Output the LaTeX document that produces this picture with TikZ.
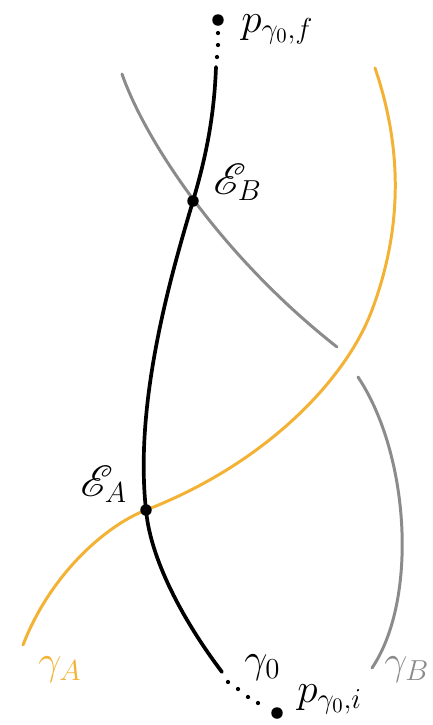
\documentclass[tikz,border=0pt]{standalone}
\usepackage{fix-cm}
\usepackage{mathrsfs}
\definecolor{gold}{RGB}{244,178,52}
\definecolor{ggray}{RGB}{138,140,138}
\begin{document}
\begin{tikzpicture}[x=0.02cm,y=-0.02cm,
  curveA/.style={gold,line width=1.7pt,line cap=round},
  curveB/.style={ggray,line width=1.7pt,line cap=round},
  curve0/.style={black,line width=2.1pt,line cap=round},
  bigdot/.style={circle,fill=black,inner sep=0pt,minimum size=0.23cm},
  smalldot/.style={circle,fill=black,inner sep=0pt,minimum size=0.085cm},
  lbl/.style={inner sep=0pt,anchor=base west,font=\fontsize{23.5}{28}\selectfont}]
\fill[white] (0,0) rectangle (433,725);
\useasboundingbox (0,0) rectangle (433,725);
% key points
\coordinate (EB) at (193,201);
\coordinate (EA) at (146,510);
\coordinate (Pf) at (218,20);
\coordinate (Pi) at (277,713);
\coordinate (Btop) at (122,74);
\coordinate (Bgap1) at (337,347);
\coordinate (Bgap2) at (358,377);
\coordinate (Bend) at (372,668);
\coordinate (Atop) at (375,68);
\coordinate (Amid) at (372,310);
\coordinate (Aend) at (23,645);
\coordinate (Ztop) at (216,67);
\coordinate (Zend) at (222,672);
% gamma_B (gray), broken where gamma_A passes over
\draw[curveB] (Btop) .. controls (145,140) and (220,255) .. (Bgap1);
\draw[curveB] (Bgap2) .. controls (410,455) and (418,600) .. (Bend);
% gamma_A (orange)
\draw[curveA] (Aend) .. controls (50,575) and (105,526) .. (EA)
  .. controls (265,464) and (346,380) .. (Amid)
  .. controls (402,230) and (403,150) .. (Atop);
% gamma_0 (black)
\draw[curve0] (Ztop) .. controls (214,120) and (205,160) .. (EB)
  .. controls (172,272) and (134,400) .. (EA)
  .. controls (151,565) and (190,630) .. (Zend);
% dotted continuations
\node[smalldot] (t1) at (218,33) {};
\node[smalldot] (t2) at (218,45) {};
\node[smalldot] (t3) at (217,57) {};
\node[smalldot] (b1) at (228,682) {};
\node[smalldot] (b2) at (238,689) {};
\node[smalldot] (b3) at (248,697) {};
\node[smalldot] (b4) at (258,703) {};
% dots
\node[bigdot] (pf) at (Pf) {};
\node[bigdot] (pi) at (Pi) {};
\node[bigdot] (eb) at (EB) {};
\node[bigdot] (ea) at (EA) {};
% labels
\node[lbl] (lpf) at (241,32) {$p_{\gamma_0,f}$};
\node[lbl] (leb) at (213,194) {$\mathscr{E}_B$};
\node[lbl] (lea) at (80,496) {$\mathscr{E}_A$};
\node[lbl,text=gold] (lga) at (38,674) {$\gamma_A$};
\node[lbl,text=ggray] (lgb) at (384,674) {$\gamma_B$};
\node[lbl] (lg0) at (244,672) {$\gamma_0$};
\node[lbl] (lpi) at (297,702) {$p_{\gamma_0,i}$};
\end{tikzpicture}
\end{document}
